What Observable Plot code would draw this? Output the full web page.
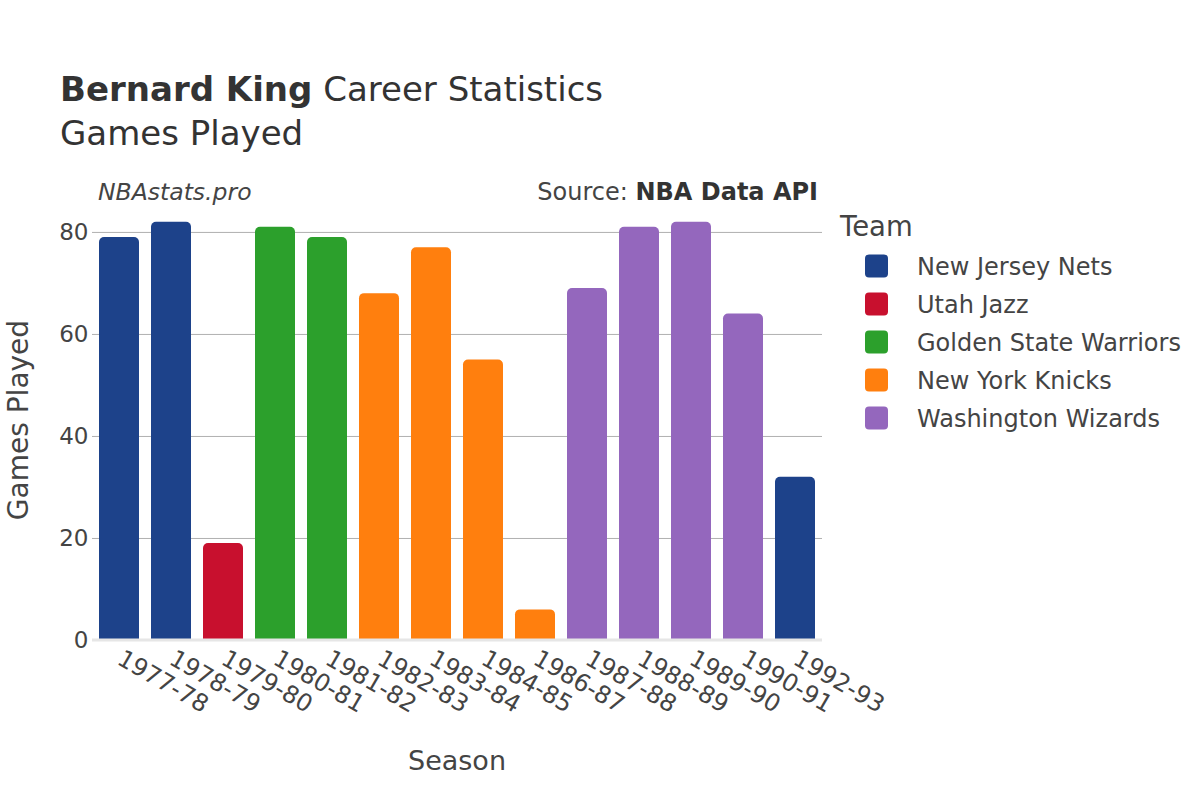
<!DOCTYPE html>
<html>
<head>
<meta charset="utf-8">
<script src="https://cdn.jsdelivr.net/npm/d3@7"></script>
<script src="https://cdn.jsdelivr.net/npm/@observablehq/plot@0.6"></script>
<style>
  html, body { margin: 0; padding: 0; background: #fff; }
  #wrap { position: relative; width: 1200px; height: 800px; font-family: "DejaVu Sans", sans-serif; }
  #wrap svg { position: absolute; left: 0; top: 0; }
</style>
</head>
<body>
<div id="wrap"></div>
<script>
const seasons = ["1977-78","1978-79","1979-80","1980-81","1981-82","1982-83","1983-84","1984-85","1986-87","1987-88","1988-89","1989-90","1990-91","1992-93"];
const teams = ["New Jersey Nets","New Jersey Nets","Utah Jazz","Golden State Warriors","Golden State Warriors","New York Knicks","New York Knicks","New York Knicks","New York Knicks","Washington Wizards","Washington Wizards","Washington Wizards","Washington Wizards","New Jersey Nets"];
const games = [79, 82, 19, 81, 79, 68, 77, 55, 6, 69, 81, 82, 64, 32];
const teamOrder = ["New Jersey Nets","Utah Jazz","Golden State Warriors","New York Knicks","Washington Wizards"];
const teamColors = ["#1d428a","#c8102e","#2ca02c","#ff7f0e","#9467bd"];
const yTicks = [0, 20, 40, 60, 80];

const data = seasons.map((s, i) => ({season: s, team: teams[i], games: games[i]}));

const chart = Plot.plot({
  width: 1200,
  height: 800,
  marginLeft: 92,
  marginRight: 378,
  marginTop: 210,
  marginBottom: 160,
  style: {fontFamily: "DejaVu Sans, sans-serif", fontSize: "22px", color: "#444", background: "transparent"},
  x: {domain: seasons, paddingInner: 0.233, paddingOuter: 0.1165, label: null},
  y: {domain: [0, 84.3], label: null},
  color: {domain: teamOrder, range: teamColors},
  marks: [
    Plot.gridY(yTicks.filter(d => d > 0), {stroke: "#b0b0b0", strokeOpacity: 1, strokeWidth: 1}),
    Plot.barY(data, {x: "season", y: "games", fill: "team", rx: 5, insetBottom: -7}),
    Plot.axisY({ticks: yTicks, tickSize: 0, tickPadding: 4, label: null, fontSize: 23, fill: "#444"}),
    Plot.axisX({tickSize: 0, tickPadding: 16, tickRotate: 30, label: null, fontSize: 24, fill: "#444"})
  ]
});
document.getElementById("wrap").appendChild(chart);

// Overlay texts and legend
const ov = d3.select("#wrap").append("svg")
  .attr("width", 1200).attr("height", 800)
  .style("pointer-events", "none")
  .style("font-family", "DejaVu Sans, sans-serif");

// cover for the squared-off bar bottoms and zero line
ov.append("rect").attr("x", 92).attr("y", 641).attr("width", 730).attr("height", 8).attr("fill", "#fff");
ov.append("line").attr("x1", 92).attr("x2", 822).attr("y1", 640).attr("y2", 640).attr("stroke", "#e6e6e6").attr("stroke-width", 3);

const t = ov.append("text").attr("x", 60).attr("y", 101).attr("font-size", 34).attr("fill", "#333");
t.append("tspan").attr("font-weight", "bold").text("Bernard King");
t.append("tspan").text(" Career Statistics");
ov.append("text").attr("x", 60).attr("y", 145).attr("font-size", 34).attr("fill", "#333").text("Games Played");

ov.append("text").attr("x", 98).attr("y", 200).attr("font-size", 23.5).attr("font-style", "italic").attr("fill", "#444").text("NBAstats.pro");
const src = ov.append("text").attr("x", 818).attr("y", 200).attr("font-size", 24).attr("text-anchor", "end").attr("fill", "#444");
src.append("tspan").text("Source: ");
src.append("tspan").attr("font-weight", "bold").attr("fill", "#333").text("NBA Data API");

ov.append("text").attr("x", 457).attr("y", 770).attr("font-size", 27).attr("text-anchor", "middle").attr("fill", "#444").text("Season");
ov.append("text").attr("transform", "translate(28,420) rotate(-90)").attr("font-size", 28).attr("text-anchor", "middle").attr("fill", "#444").text("Games Played");

ov.append("text").attr("x", 840).attr("y", 236).attr("font-size", 27.5).attr("fill", "#444").text("Team");
teamOrder.forEach((name, i) => {
  const cy = 266 + i * 38;
  ov.append("rect").attr("x", 865).attr("y", cy - 11.5).attr("width", 23).attr("height", 23).attr("rx", 4).attr("fill", teamColors[i]);
  ov.append("text").attr("x", 917).attr("y", cy + 8.5).attr("font-size", 24).attr("fill", "#444").text(name);
});
</script>
</body>
</html>
